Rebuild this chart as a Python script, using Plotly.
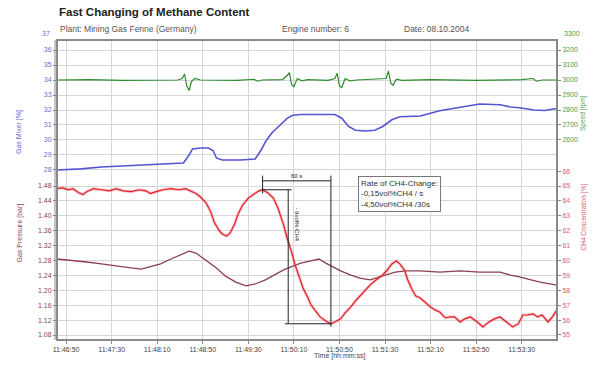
import plotly.graph_objects as go

# ---- data -------------------------------------------------------------
# time axis: seconds after 11:46:50
tick_seconds = [0, 40, 80, 120, 160, 200, 240, 280, 320, 360, 400]
tick_labels = ["11:46:50", "11:47:30", "11:48:10", "11:48:50", "11:49:30", "11:50:10",
               "11:50:50", "11:51:30", "11:52:10", "11:52:50", "11:53:30"]

# engine speed [rpm]
speed_t = [-8, 20, 50, 80, 98, 102, 104, 106, 108, 110, 113, 118, 150, 165, 168, 172,
           190, 194, 196, 198, 200, 203, 207, 212, 230, 236, 238, 240, 242, 245, 249,
           255, 270, 281, 283, 285, 287, 290, 295, 320, 360, 400, 410, 413, 418, 431]
speed_v = [3000, 3002, 2998, 3001, 3000, 3010, 3040, 2960, 2930, 2990, 3010, 3000, 2998,
           3005, 2992, 3000, 3003, 3030, 3050, 2970, 2955, 3010, 2995, 3002, 2998, 3010,
           3045, 2960, 2950, 3010, 2995, 3000, 3004, 3010, 3060, 2980, 2965, 3005, 2998,
           3002, 2997, 3003, 3010, 2992, 3000, 3000]

# gas mixer position [%]
mixer_t = [-8, 13, 31, 48, 74, 96, 103, 108, 111, 118, 125, 129, 132, 137, 153, 166, 171,
           176, 181, 188, 194, 199, 206, 236, 242, 248, 254, 263, 271, 278, 286, 293, 311,
           328, 346, 363, 381, 390, 398, 411, 420, 431]
mixer_v = [28.0, 28.07, 28.2, 28.26, 28.33, 28.4, 28.46, 29.0, 29.4, 29.46, 29.46, 29.3,
           28.8, 28.66, 28.66, 28.73, 29.3, 30.0, 30.5, 31.0, 31.44, 31.65, 31.7, 31.7,
           31.45, 30.9, 30.65, 30.6, 30.65, 30.9, 31.35, 31.55, 31.6, 31.95, 32.2, 32.4,
           32.35, 32.2, 32.15, 32.0, 31.97, 32.1]

# gas pressure [bar]
press_t = [-8, 4, 18, 31, 44, 57, 66, 74, 83, 92, 101, 108, 114, 123, 132, 140, 149, 158,
           166, 175, 184, 191, 199, 206, 215, 222, 228, 234, 241, 250, 258, 267, 274, 280,
           289, 298, 311, 328, 346, 363, 381, 390, 398, 407, 416, 425, 431]
press_v = [1.284, 1.281, 1.276, 1.271, 1.265, 1.260, 1.257, 1.263, 1.271, 1.284, 1.297,
           1.305, 1.300, 1.281, 1.260, 1.238, 1.222, 1.212, 1.217, 1.228, 1.244, 1.255,
           1.265, 1.273, 1.279, 1.284, 1.273, 1.263, 1.252, 1.241, 1.233, 1.228, 1.236,
           1.241, 1.249, 1.252, 1.252, 1.249, 1.252, 1.249, 1.249, 1.241, 1.236, 1.228,
           1.222, 1.217, 1.214]

# CH4 concentration [%]
ch4_t = [-8, -3, 2, 6, 11, 15, 18, 24, 31, 38, 44, 50, 57, 64, 70, 74, 79, 85, 92, 99,
         105, 109, 114, 118, 123, 127, 130, 134, 137, 141, 144, 148, 151, 155, 160, 165,
         169, 172.5, 177, 182, 186, 191, 194, 198, 201, 205, 208, 212, 215, 219, 223, 228,
         232.5, 236, 241, 245, 250, 254, 258, 263, 267, 272, 278, 282, 286, 290, 293, 297,
         300, 304, 307, 311, 315, 320, 324, 328, 333, 337, 341, 346, 350, 355, 361, 366,
         370, 376, 381, 387, 392, 397, 401, 405, 410, 414, 418, 423, 427, 431]
ch4_v = [64.82, 64.88, 64.75, 64.82, 64.55, 64.42, 64.62, 64.82, 64.75, 64.68, 64.82,
         64.68, 64.62, 64.75, 64.68, 64.5, 64.62, 64.75, 64.82, 64.75, 64.82, 64.68, 64.5,
         64.26, 63.86, 63.26, 62.58, 62.05, 61.78, 61.64, 61.85, 62.45, 63.12, 63.72,
         64.19, 64.46, 64.66, 64.75, 64.55, 64.19, 63.52, 62.38, 61.51, 60.57, 59.7, 58.83,
         58.15, 57.55, 57.01, 56.61, 56.21, 55.94, 55.75, 55.87, 56.08, 56.48, 56.88,
         57.28, 57.62, 58.08, 58.36, 58.69, 59.03, 59.36, 59.77, 59.97, 59.77, 59.36,
         58.69, 58.02, 57.62, 57.48, 57.21, 56.88, 56.68, 56.54, 56.14, 56.21, 56.21,
         55.87, 56.08, 56.21, 55.87, 55.54, 55.81, 56.08, 56.21, 55.87, 55.54, 55.74,
         56.34, 56.34, 56.41, 56.21, 56.34, 55.87, 56.21, 56.68]

# ---- styling ----------------------------------------------------------
FONT = "Liberation Sans, Arial, sans-serif"
GRID = "#d6d6d6"
FRAME = "#8a8a8a"
C_SPEED = "#2e8b2e"
C_MIXER = "#5454d4"
C_PRESS = "#8c3f52"
C_CH4 = "#e3202a"

fig = go.Figure()

fig.add_trace(go.Scatter(x=speed_t, y=speed_v, xaxis="x2", yaxis="y2", mode="lines",
                         line=dict(color=C_SPEED, width=1.2)))
fig.add_trace(go.Scatter(x=mixer_t, y=mixer_v, xaxis="x2", yaxis="y", mode="lines",
                         line=dict(color=C_MIXER, width=1.6)))
fig.add_trace(go.Scatter(x=press_t, y=press_v, xaxis="x", yaxis="y3", mode="lines",
                         line=dict(color=C_PRESS, width=1.3)))
# soft halo under the CH4 trace, then the trace itself
fig.add_trace(go.Scatter(x=ch4_t, y=ch4_v, xaxis="x", yaxis="y4", mode="lines",
                         line=dict(color="rgba(235,110,120,0.4)", width=3.0)))
fig.add_trace(go.Scatter(x=ch4_t, y=ch4_v, xaxis="x", yaxis="y4", mode="lines",
                         line=dict(color=C_CH4, width=1.2)))

x_range = [-8, 431]
split = 169 / 300

fig.update_layout(
    width=594, height=368,
    margin=dict(l=57, r=37, t=40, b=28),
    paper_bgcolor="white", plot_bgcolor="white",
    showlegend=False,
    font=dict(family=FONT, size=7, color="#444444"),
    xaxis=dict(domain=[0, 1], anchor="y3", range=x_range, tickmode="array",
               tickvals=tick_seconds, ticktext=tick_labels, showgrid=True,
               gridcolor=GRID, gridwidth=1, zeroline=False, ticks="outside",
               ticklen=3, tickcolor=FRAME, tickfont=dict(family=FONT, size=7, color="#444444")),
    xaxis2=dict(domain=[0, 1], anchor="y", matches="x", range=x_range, tickmode="array",
                tickvals=tick_seconds, showticklabels=False, showgrid=True,
                gridcolor=GRID, gridwidth=1, zeroline=False),
    yaxis=dict(domain=[split, 1], anchor="x2", range=[27.93, 36.67], tickmode="array",
               tickvals=list(range(28, 37)), showgrid=True, gridcolor=GRID,
               zeroline=False, ticks="outside", ticklen=3, tickcolor=FRAME,
               tickfont=dict(family=FONT, size=7, color="#6a6ad0")),
    yaxis2=dict(overlaying="y", side="right", anchor="x2", range=[2393, 3267],
                tickmode="array", tickvals=list(range(2600, 3300, 100)), showgrid=False,
                zeroline=False, ticks="outside", ticklen=3, tickcolor=FRAME,
                tickfont=dict(family=FONT, size=7, color="#4aa04a")),
    yaxis3=dict(domain=[0, split], anchor="x", range=[1.0666, 1.5203], tickmode="array",
                tickvals=[1.08, 1.12, 1.16, 1.20, 1.24, 1.28, 1.32, 1.36, 1.40, 1.44, 1.48],
                tickformat=".2f", showgrid=True, gridcolor=GRID, zeroline=False,
                ticks="outside", ticklen=3, tickcolor=FRAME,
                tickfont=dict(family=FONT, size=7, color="#8c3f52")),
    yaxis4=dict(overlaying="y3", side="right", anchor="x", range=[54.66, 66.01],
                tickmode="array", tickvals=list(range(55, 67)), showgrid=False,
                zeroline=False, ticks="outside", ticklen=3, tickcolor=FRAME,
                tickfont=dict(family=FONT, size=7, color="#e06070")),
)

shapes = [
    # outer frame and left double rule
    dict(type="rect", xref="paper", yref="paper", x0=0, x1=1, y0=0, y1=1,
         line=dict(color=FRAME, width=2)),
    dict(type="line", xref="paper", yref="paper", x0=-0.004, x1=-0.004, y0=0, y1=1,
         line=dict(color=FRAME, width=1)),
]

# dimension lines: 60 s from CH4 peak to CH4 minimum, ~9 vol% drop
t_peak, t_min = 172.5, 232.5
v_peak, v_min = 64.75, 55.75
t_mid = 195
line_k = dict(color="#222222", width=1)
shapes += [
    dict(type="line", xref="x", yref="y4", x0=t_peak, x1=t_min, y0=65.35, y1=65.35, line=line_k),
    dict(type="line", xref="x", yref="y4", x0=t_peak, x1=t_peak, y0=65.7, y1=64.5, line=line_k),
    dict(type="line", xref="x", yref="y4", x0=t_min, x1=t_min, y0=65.7, y1=v_min - 0.2, line=line_k),
    dict(type="line", xref="x", yref="y4", x0=t_peak, x1=t_mid + 3, y0=v_peak, y1=v_peak, line=line_k),
    dict(type="line", xref="x", yref="y4", x0=t_mid, x1=t_mid, y0=v_peak, y1=v_min, line=line_k),
    dict(type="line", xref="x", yref="y4", x0=t_mid - 3, x1=t_min, y0=v_min, y1=v_min, line=line_k),
]
fig.update_layout(shapes=shapes)

ann = []
# title block
ann.append(dict(text="<b>Fast Changing of Methane Content</b>", xref="paper", yref="paper",
                x=0.0, y=1.0, yshift=28, xanchor="left", yanchor="middle", showarrow=False,
                font=dict(family=FONT, size=11.5, color="#222222")))
for txt, px in [("Plant: Mining Gas Fenne (Germany)", 58), ("Engine number: 6", 280),
                ("Date: 08.10.2004", 402)]:
    ann.append(dict(text=txt, xref="paper", yref="paper", x=(px - 57) / 500, y=1.0,
                    yshift=11, xanchor="left", yanchor="middle", showarrow=False,
                    font=dict(family=FONT, size=8.5, color="#555555")))

# axis titles
ann.append(dict(text="Gas Mixer [%]", xref="paper", yref="paper", x=(13 - 57) / 500,
                y=(340 - 108) / 300, textangle=-90, showarrow=False,
                font=dict(family=FONT, size=7, color="#6a6ad0")))
ann.append(dict(text="Gas Pressure [bar]", xref="paper", yref="paper", x=(13 - 57) / 500,
                y=(340 - 265) / 300, textangle=-90, showarrow=False,
                font=dict(family=FONT, size=7, color=C_PRESS)))
ann.append(dict(text="Speed [rpm]", xref="paper", yref="paper", x=(589 - 57) / 500,
                y=(340 - 93) / 300, textangle=-90, showarrow=False,
                font=dict(family=FONT, size=6.5, color="#4aa04a")))
ann.append(dict(text="CH4 Concentration [%]", xref="paper", yref="paper", x=(589 - 57) / 500,
                y=(340 - 253) / 300, textangle=-90, showarrow=False,
                font=dict(family=FONT, size=6.5, color="#e06070")))
ann.append(dict(text="Time [hh:mm:ss]", xref="paper", yref="paper", x=(340 - 57) / 500,
                y=0, yshift=-22, showarrow=False,
                font=dict(family=FONT, size=7, color="#444444")))

# top tick labels sitting just above the frame
ann.append(dict(text="37", xref="paper", yref="paper", x=0, y=(340 - 34) / 300, xshift=-5,
                xanchor="right", yanchor="middle", showarrow=False,
                font=dict(family=FONT, size=7, color="#6a6ad0")))
ann.append(dict(text="3300", xref="paper", yref="paper", x=1, y=(340 - 34) / 300, xshift=5,
                xanchor="left", yanchor="middle", showarrow=False,
                font=dict(family=FONT, size=7, color="#4aa04a")))

# dimension labels
ann.append(dict(text="60 s", xref="x", yref="y4", x=(t_peak + t_min) / 2, y=65.35,
                yshift=5, showarrow=False, font=dict(family=FONT, size=6, color="#222222")))
ann.append(dict(text=f"- {v_peak - v_min:.0f}vol% CH4", xref="x", yref="y4", x=t_mid + 8,
                y=62.4, textangle=90, showarrow=False,
                font=dict(family=FONT, size=6, color="#222222")))

# rate box
ann.append(dict(text="Rate of CH4-Change:<br>-0,15vol%CH4 / s<br>-4,50vol%CH4 /30s",
                xref="paper", yref="paper", x=(358 - 57) / 500, y=(340 - 176) / 300,
                xanchor="left", yanchor="top", align="left", showarrow=False,
                bgcolor="white", bordercolor="#777777", borderwidth=1, borderpad=2,
                font=dict(family=FONT, size=8, color="#333333")))

fig.update_layout(annotations=ann)

fig.write_html("out.html")
